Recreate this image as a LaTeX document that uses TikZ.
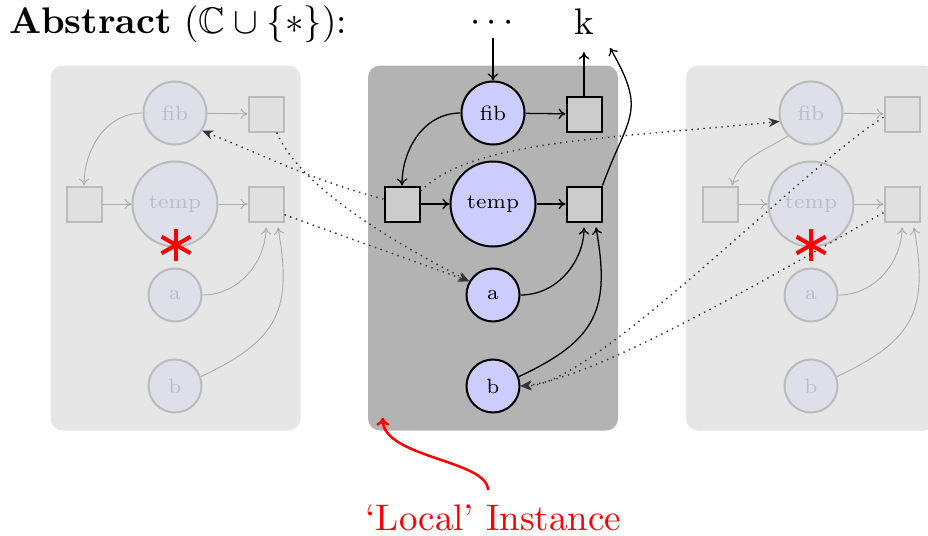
\documentclass[tikz,border=0pt]{standalone}
\usepackage{amssymb}
\usetikzlibrary{arrows.meta,calc}
\newcommand\lbl[1]{\scalebox{2.95}{\scriptsize #1}}
\newcommand\bigtxt[1]{\scalebox{3.7}{#1}}
\definecolor{panelM}{HTML}{B3B3B3}
\definecolor{panelS}{HTML}{E6E6E6}
\definecolor{circM}{HTML}{CCCCFF}
\definecolor{sqM}{HTML}{CCCCCC}
\definecolor{circS}{HTML}{DFDFE9}
\definecolor{sqS}{HTML}{E0E0E0}
\definecolor{lineS}{HTML}{BBBBBB}
\definecolor{txtS}{HTML}{BCBCC8}
\definecolor{arrS}{HTML}{ABABAB}
\tikzset{
  pcirc/.style={circle, draw, line width=2pt, inner sep=0pt},
  psq/.style={rectangle, draw, line width=2pt, minimum size=35pt, inner sep=0pt},
  conn/.style={-{To[length=7pt,width=10.5pt]}},
  panel/.style={rounded corners=12pt, minimum width=250pt, minimum height=365pt, inner sep=0pt},
  sidepanel/.style={pcirc/.append style={fill=circS,draw=lineS,text=txtS},
                    psq/.append style={fill=sqS,draw=lineS},
                    conn/.append style={draw=arrS,line width=0.9pt}},
  mainpanel/.style={pcirc/.append style={fill=circM,draw=black,text=black},
                    psq/.append style={fill=sqM,draw=black},
                    conn/.append style={draw=black,line width=1.3pt}},
  dotline/.style={line width=1.4pt, draw=black!80, dash pattern=on 1.4pt off 4.6pt,
                  -{Stealth[length=11pt,width=9pt,inset=3.5pt]}},
  astk/.style={draw=red, line width=4pt},
  txt/.style={inner sep=0pt},
  redarr/.style={draw=red, line width=2.5pt, -{To[length=8pt,width=13pt]}}
}
\newcommand\drawpanel[3]{%
  \begin{scope}[xshift=#2,#3]
    \node[pcirc, minimum size=63pt] (#1fib) at (493,113) {\lbl{fib}};
    \node[psq] (#1fsq) at (584,114) {};
    \node[psq] (#1lsq) at (402,204) {};
    \node[pcirc, minimum size=85pt] (#1temp) at (493,204) {\lbl{temp}};
    \node[psq] (#1tsq) at (584,204) {};
    \node[pcirc, minimum size=53pt] (#1a) at (493,295) {\lbl{a}};
    \node[pcirc, minimum size=53pt] (#1b) at (493,386) {\lbl{b}};
    \draw[conn] (#1fib) -- (#1fsq);
    \draw[conn] (#1lsq) -- (#1temp);
    \draw[conn] (#1temp) -- (#1tsq);
    \draw[conn, shorten >=5pt] (#1a.east) to[out=0,in=-90] (#1tsq.south);
    \draw[conn, shorten >=5pt] (#1b.20) to[out=25,in=-80,looseness=1.3] (#1tsq.-59);
  \end{scope}}
\begin{document}
\begin{tikzpicture}[x=1pt,y=-1pt]
  \useasboundingbox (0,0) rectangle (928,535);
  \clip (0,0) rectangle (928,535);
  % panels
  \node[panel, fill=panelS] (Lpanel) at (175.5,248) {};
  \node[panel, fill=panelM] (Mpanel) at (493,248) {};
  \node[panel, fill=panelS] (Rpanel) at (811,248) {};
  % panel contents
  \drawpanel{L}{-318pt}{sidepanel}
  \drawpanel{M}{0pt}{mainpanel}
  \drawpanel{R}{318pt}{sidepanel}
  \begin{scope}[sidepanel]
    \draw[conn] (Lfib.west) to[out=180,in=90] (Llsq.north);
    \draw[conn] (Rfib.225) to[out=212,in=75] (Rlsq.57);
  \end{scope}
  \begin{scope}[mainpanel]
    \draw[conn] (Mfib.west) to[out=180,in=90] (Mlsq.north);
  \end{scope}
  % asterisks
  \coordinate (Last) at (176,245);
  \coordinate (Rast) at (811,245);
  \foreach \c in {Last,Rast}{
    \draw[astk] (\c) ++(0,-16) -- ++(0,32);
    \draw[astk] (\c) ++(-14.5,-8.3) -- ++(29,16.6);
    \draw[astk] (\c) ++(-14.5,8.3) -- ++(29,-16.6);
  }
  % top texts
  \node[txt, anchor=base west] (title) at (9,33.5) {\bigtxt{\textbf{Abstract} ($\mathbb{C}\cup\{\ast\}$):}};
  \node[txt, anchor=base] (dots) at (492,32) {\bigtxt{$\cdots$}};
  \node[txt, anchor=base] (k) at (584,35) {\bigtxt{k}};
  \coordinate (kin) at (610,48);
  \begin{scope}[mainpanel]
    \draw[conn, shorten <=6pt] (dots.south -| Mfib.north) -- (Mfib.north);
    \draw[conn, shorten >=17pt] (Mfsq.north) -- (Mfsq.north |- k.south);
    \draw[conn] (Mtsq.north east) to[out=70,in=-60,looseness=1.4] (kin);
  \end{scope}
  % dotted links
  \draw[dotline] (Mlsq.165) to[out=165,in=-22] (Lfib.-33);
  \draw[dotline] (Lfsq.-60) .. controls +(22,51) and +(-89,-46) .. (Ma.150);
  \draw[dotline] (Ltsq.-30) to[out=-20,in=160] (Ma.150);
  \draw[dotline] (Mlsq.35) .. controls +(50,-50) and +(-180,18) .. (Rfib.195);
  \draw[dotline] (Rfsq.190) .. controls +(-83,52) and +(73,0) .. (Mb.east);
  \draw[dotline] (Rtsq.205) .. controls +(-80,45) and +(80,-8) .. (Mb.east);
  % local instance label
  \node[txt, anchor=base, text=red] (local) at (493.5,530) {\bigtxt{`Local' Instance}};
  \coordinate (redstart) at ($(local.north)+(-5.5,-14)$);
  \coordinate (redend) at ($(Mpanel.south west)+(15,-13)$);
  \draw[redarr] (redstart) .. controls +(0,-30) and +(0,40) .. (redend);
\end{tikzpicture}
\end{document}
